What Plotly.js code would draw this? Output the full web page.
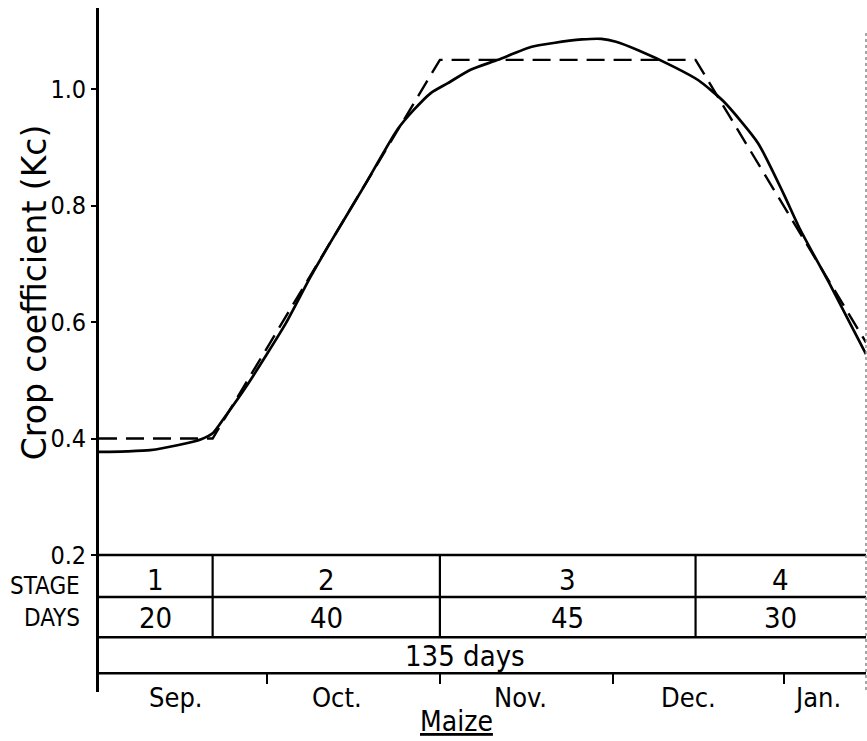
<!DOCTYPE html>
<html>
<head>
<meta charset="utf-8">
<script src="https://cdn.plot.ly/plotly-3.0.1.min.js"></script>
<style>html,body{margin:0;padding:0;background:#fff;}#chart{width:867px;height:741px;}</style>
</head>
<body>
<div id="chart"></div>
<script>
// FAO stage-wise Kc (dashed)
const faoDays = [0, 20, 60, 105, 135];
const faoKc = [0.40, 0.40, 1.05, 1.05, 0.565];
// Smoothed Kc curve (solid)
const curveDays = [0, 5, 9, 14, 18, 20, 22, 26.3, 32.9, 37.2, 41, 46.6, 52.5, 55.4, 58.4, 61.4, 65.4, 70.2, 76, 80, 85, 88.4, 91, 95, 101.2, 105.5, 110, 116, 120.5, 123.3, 128.9, 135];
const curveKc = [0.377, 0.378, 0.380, 0.389, 0.399, 0.409, 0.435, 0.495, 0.598, 0.677, 0.741, 0.832, 0.930, 0.964, 0.993, 1.010, 1.033, 1.050, 1.072, 1.079, 1.085, 1.086, 1.081, 1.066, 1.038, 1.015, 0.978, 0.907, 0.820, 0.761, 0.660, 0.545];
// Table
const stageLabels = ['1', '2', '3', '4'];
const stageDays = [20, 40, 45, 30];
const totalLabel = '135 days';
const totalCenter = 64.5;
const months = ['Sep.', 'Oct.', 'Nov.', 'Dec.', 'Jan.'];
const monthCenters = [13.6, 41.9, 74.1, 103.7, 126.4];
const monthBounds = [29.5, 60, 90.5, 120.5];
const yTicks = [0.2, 0.4, 0.6, 0.8, 1.0];
const yTickText = ['0.2', '0.4', '0.6', '0.8', '1.0'];

// layout constants (Kc units for table rows)
const rowTop = 0.2, rowStage = 0.128, rowDays = 0.059, rowTotal = -0.003;
const narrow = 'DejaVu Sans Condensed, sans-serif';

const bounds = [];
let acc = 0;
const centers = [];
stageDays.forEach(d => { centers.push(acc + d / 2); acc += d; bounds.push(acc); });

const shapes = [];
[rowTop, rowStage, rowDays, rowTotal].forEach(y => shapes.push({
  type: 'line', xref: 'paper', yref: 'y', x0: 0, x1: 1, y0: y, y1: y,
  line: {color: '#000', width: 2.5}
}));
bounds.slice(0, -1).forEach(b => shapes.push({
  type: 'line', xref: 'x', yref: 'y', x0: b, x1: b, y0: rowTop, y1: rowDays,
  line: {color: '#000', width: 2.2}
}));
shapes.push({type: 'line', xref: 'paper', yref: 'y', x0: 1, x1: 1, y0: 1.096, y1: -0.035,
  line: {color: '#888', width: 1.5, dash: 'dot'}});

const ann = [];
ann.push({text: 'Crop coefficient (Kc)', textangle: -90, xref: 'paper', yref: 'paper',
  x: -0.083, y: 0.585, xanchor: 'center', yanchor: 'middle', showarrow: false,
  font: {family: 'DejaVu Sans, sans-serif', size: 33, color: '#000'}});
ann.push({text: 'STAGE', xref: 'paper', yref: 'y', x: -0.022, y: 0.147, xanchor: 'right', yanchor: 'middle',
  showarrow: false, font: {family: narrow, size: 24, color: '#000'}});
ann.push({text: 'DAYS', xref: 'paper', yref: 'y', x: -0.022, y: 0.092, xanchor: 'right', yanchor: 'middle',
  showarrow: false, font: {family: narrow, size: 24, color: '#000'}});
stageLabels.forEach((s, i) => {
  ann.push({text: s, xref: 'x', yref: 'y', x: centers[i], y: 0.158, xanchor: 'center', yanchor: 'middle',
    showarrow: false, font: {family: narrow, size: 29, color: '#000'}});
  ann.push({text: String(stageDays[i]), xref: 'x', yref: 'y', x: centers[i], y: 0.092, xanchor: 'center', yanchor: 'middle',
    showarrow: false, font: {family: narrow, size: 29, color: '#000'}});
});
ann.push({text: totalLabel, xref: 'x', yref: 'y', x: totalCenter, y: 0.027, xanchor: 'center', yanchor: 'middle',
  showarrow: false, font: {family: narrow, size: 29, color: '#000'}});
months.forEach((m, i) => ann.push({text: m, xref: 'x', yref: 'paper', x: monthCenters[i], y: -0.0085,
  xanchor: 'center', yanchor: 'middle', showarrow: false, font: {family: narrow, size: 27, color: '#000'}}));
ann.push({text: '<u>Maize</u>', xref: 'x', yref: 'paper', x: 63, y: -0.043, xanchor: 'center', yanchor: 'middle',
  showarrow: false, font: {family: 'DejaVu Sans Condensed, sans-serif', size: 28, color: '#000'}});

const data = [
  {x: faoDays, y: faoKc, type: 'scatter', mode: 'lines', line: {color: '#000', width: 2.4, dash: '18px,9px'}, hoverinfo: 'skip'},
  {x: curveDays, y: curveKc, type: 'scatter', mode: 'lines', line: {color: '#000', width: 2.7, shape: 'spline', smoothing: 0.6}, hoverinfo: 'skip'}
];

const layout = {
  width: 867, height: 741,
  margin: {l: 99, r: 1, t: 8, b: 49},
  paper_bgcolor: '#fff', plot_bgcolor: '#fff',
  showlegend: false,
  xaxis: {range: [0, 135], anchor: 'free', position: 0.0278, showline: true, linecolor: '#000', linewidth: 2.5,
    ticks: 'outside', ticklen: 10, tickwidth: 2.2, tickcolor: '#000', tickvals: monthBounds,
    showticklabels: false, showgrid: false, zeroline: false, fixedrange: true},
  yaxis: {range: [-0.035, 1.139], showline: true, linecolor: '#000', linewidth: 2.8,
    ticks: 'outside', ticklen: 5, tickwidth: 2, tickcolor: '#000', tickvals: yTicks, ticktext: yTickText,
    tickfont: {family: narrow, size: 25, color: '#000'}, showgrid: false, zeroline: false, fixedrange: true},
  shapes: shapes,
  annotations: ann
};
Plotly.newPlot('chart', data, layout, {staticPlot: true, displayModeBar: false});
</script>
</body>
</html>
